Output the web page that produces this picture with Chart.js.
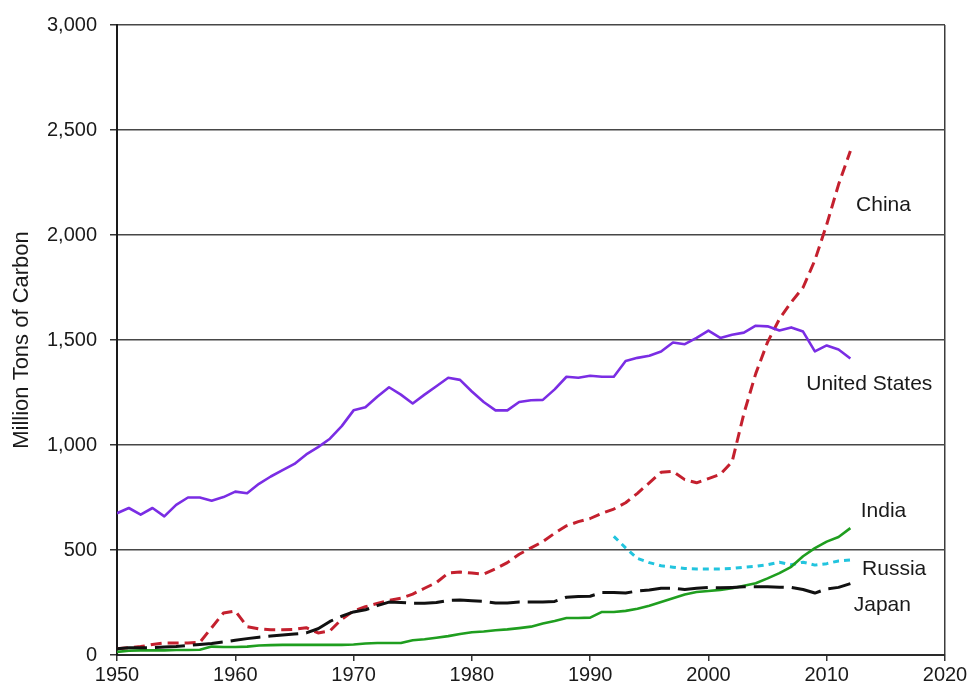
<!DOCTYPE html>
<html>
<head>
<meta charset="utf-8">
<script src="https://cdn.jsdelivr.net/npm/chart.js@4.4.1/dist/chart.umd.min.js"></script>
<style>
  html, body { margin: 0; padding: 0; background: #ffffff; }
  #wrap { width: 970px; height: 690px; }
</style>
</head>
<body>
<div id="wrap"><canvas id="c" width="970" height="690"></canvas></div>
<script>
// ---- Data (million tons of carbon) ----
const years = [];
for (let y = 1950; y <= 2012; y++) years.push(y);

const unitedStates = [
  675, 700, 668, 700, 660, 715, 750, 750, 735, 752,
  778, 770, 815, 850, 880, 910, 955, 990, 1030, 1090,
  1165, 1180, 1230, 1275, 1240, 1198, 1240, 1280, 1320, 1310,
  1255, 1205, 1165, 1165, 1205, 1213, 1215, 1265, 1325, 1320,
  1330, 1325, 1325, 1400, 1415, 1425, 1445, 1488, 1480, 1510,
  1545, 1510, 1525, 1535, 1568, 1565, 1545, 1560, 1540, 1446,
  1474, 1455, 1412
];
const china = [
  30, 35, 40, 50, 57, 57, 57, 60, 130, 200,
  210, 135, 124, 120, 120, 122, 130, 105, 115, 170,
  210, 230, 245, 260, 270, 290, 318, 345, 390, 395,
  390, 385, 410, 440, 480, 510, 540, 580, 615, 635,
  650, 675, 695, 725, 770, 820, 870, 875, 835, 820,
  840, 860, 920, 1150, 1340, 1490, 1600, 1680, 1750, 1880,
  2050, 2240, 2400
];
const japan = [
  30, 35, 35, 35, 38, 40, 45, 50, 55, 62,
  70, 78, 85, 90, 95, 100, 105, 125, 160, 185,
  205, 215, 235, 252, 250, 247, 247, 250, 260, 262,
  258, 255, 248, 248, 252, 252, 252, 255, 275, 278,
  280, 298, 298, 295, 305, 310, 318, 318, 312, 318,
  322, 320, 322, 325, 325, 325, 323, 322, 312, 295,
  315, 322, 340
];
const india = [
  15, 20, 22, 22, 22, 24, 24, 25, 40, 38,
  38, 40, 45, 47, 48, 48, 48, 48, 48, 48,
  50, 55, 57, 57, 57, 70, 75, 82, 90, 100,
  108, 112, 118, 122, 128, 135, 150, 162, 176, 176,
  178, 205, 205, 210, 220, 235, 252, 270, 288, 300,
  305, 310, 318, 330, 342, 365, 390, 420, 470, 509,
  540, 562, 604
];
const russiaYears = [1992, 1993, 1994, 1995, 1996, 1997, 1998, 1999, 2000, 2001, 2002,
                     2003, 2004, 2005, 2006, 2007, 2008, 2009, 2010, 2011, 2012];
const russia = [565, 510, 460, 440, 425, 418, 412, 410, 410, 410, 412,
                418, 422, 430, 442, 430, 442, 428, 435, 448, 452];

const xTicks = [1950, 1960, 1970, 1980, 1990, 2000, 2010, 2020];
const yTicks = [0, 500, 1000, 1500, 2000, 2500, 3000];

const seriesNames = ['China', 'United States', 'India', 'Russia', 'Japan'];

function pts(xs, vs) { return xs.map((x, i) => ({ x: x, y: vs[i] })); }

const FONT = "'Liberation Sans', Arial, sans-serif";

// Series name labels placed in data space
const seriesLabelPlugin = {
  id: 'seriesLabels',
  afterDatasetsDraw(chart, args, opts) {
    const ctx = chart.ctx;
    const xs = chart.scales.x, ys = chart.scales.y;
    ctx.save();
    ctx.font = opts.font;
    ctx.fillStyle = opts.color;
    ctx.textAlign = 'center';
    ctx.textBaseline = 'middle';
    opts.items.forEach(it => {
      ctx.fillText(it.text, xs.getPixelForValue(it.x), ys.getPixelForValue(it.y));
    });
    ctx.restore();
  }
};

new Chart(document.getElementById('c'), {
  type: 'line',
  data: {
    datasets: [
      { label: 'United States', data: pts(years, unitedStates), borderColor: '#7a2de4', borderWidth: 2.6 },
      { label: 'Japan', data: pts(years, japan), borderColor: '#111111', borderWidth: 3, borderDash: [30, 8] },
      { label: 'India', data: pts(years, india), borderColor: '#1f9e1f', borderWidth: 2.6 },
      { label: 'Russia', data: pts(russiaYears, russia), borderColor: '#22c4de', borderWidth: 3, borderDash: [6, 5] },
      { label: 'China', data: pts(years, china), borderColor: '#c4202e', borderWidth: 3, borderDash: [11, 6] }
    ]
  },
  options: {
    responsive: false,
    animation: false,
    devicePixelRatio: 1,
    elements: {
      point: { radius: 0 },
      line: { tension: 0, fill: false, borderJoinStyle: 'round', borderCapStyle: 'butt' }
    },
    layout: { padding: { left: 0, right: 25, top: 24, bottom: 0 } },
    plugins: {
      legend: { display: false },
      tooltip: { enabled: false },
      seriesLabels: {
        font: "21px " + FONT,
        color: '#1a1a1a',
        items: [
          { text: seriesNames[0], x: 2014.8, y: 2144 },
          { text: seriesNames[1], x: 2013.6, y: 1288 },
          { text: seriesNames[2], x: 2014.8, y: 685 },
          { text: seriesNames[3], x: 2015.7, y: 409 },
          { text: seriesNames[4], x: 2014.7, y: 238 }
        ]
      }
    },
    scales: {
      x: {
        type: 'linear',
        min: 1950, max: 2020,
        afterBuildTicks: s => { s.ticks = xTicks.map(v => ({ value: v })); },
        afterFit: s => { s.height = 35; },
        ticks: {
          color: '#1a1a1a',
          font: { family: FONT, size: 20 },
          padding: 2,
          maxRotation: 0,
          callback: v => String(v)
        },
        grid: {
          drawOnChartArea: true,
          color: c => (c.tick && c.tick.value === 2020) ? '#3c3c3c' : 'rgba(0,0,0,0)',
          lineWidth: 1.5,
          drawTicks: true,
          tickLength: 6,
          tickColor: '#333333'
        },
        border: { display: true, color: '#2a2a2a', width: 2 }
      },
      y: {
        type: 'linear',
        min: 0, max: 3000,
        afterBuildTicks: s => { s.ticks = yTicks.map(v => ({ value: v })); },
        afterFit: s => { s.width = 117; },
        ticks: {
          color: '#1a1a1a',
          font: { family: FONT, size: 20 },
          padding: 13,
          callback: v => v.toLocaleString('en-US')
        },
        title: {
          display: true,
          text: 'Million Tons of Carbon',
          color: '#1a1a1a',
          font: { family: FONT, size: 22 },
          padding: { top: 9, bottom: 0 }
        },
        grid: {
          color: '#474747',
          lineWidth: 1.5,
          drawTicks: true,
          tickLength: 7,
          tickColor: '#333333'
        },
        border: { display: true, color: '#1a1a1a', width: 2 }
      }
    }
  },
  plugins: [seriesLabelPlugin]
});
</script>
</body>
</html>
